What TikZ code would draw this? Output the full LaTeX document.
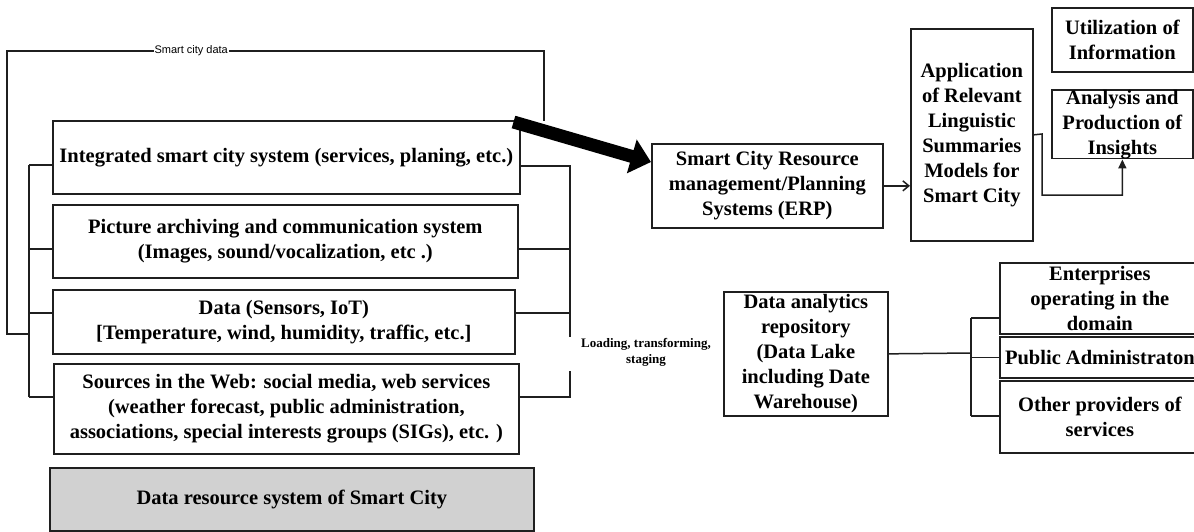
\documentclass[tikz,border=0pt]{standalone}
\usepackage{fontspec}
\setmainfont{Liberation Serif}
\newfontfamily\sansf{Liberation Sans}
\usetikzlibrary{arrows.meta}
\begin{document}
\begin{tikzpicture}[x=1pt,y=-1pt,
  box/.style={draw=black!88, line width=1.7pt, inner sep=0pt, align=center,
    font=\fontsize{20.5}{25}\selectfont\bfseries, anchor=north west},
  conn/.style={line width=1.5pt, draw=black!88},
  lbl/.style={font=\sansf\fontsize{11}{13}\selectfont, fill=white, inner sep=1pt},
]
\useasboundingbox (0,0) rectangle (1194,532);

% left column
\node[box, minimum width=467, minimum height=73] (int) at (52,120)
  {Integrated smart city system (services, planing, etc.)};
\node[box, minimum width=465, minimum height=73] (pic) at (52,204)
  {Picture archiving and communication system\\(Images, sound/vocalization, etc .)};
\node[box, minimum width=462, minimum height=64] (dat) at (52,289)
  {Data (Sensors, IoT)\\{[}Temperature, wind, humidity, traffic, etc.{]}};
\node[box, minimum width=465, minimum height=90] (web) at (53,363)
  {Sources in the Web: social media, web services\\(weather forecast, public administration,\\associations, special interests groups (SIGs), etc. )};
\node[box, fill=black!18, minimum width=484, minimum height=63] (drs) at (49,467)
  {Data resource system of Smart City};

% right part
\node[box, minimum width=231, minimum height=84] (erp) at (651,143)
  {Smart City Resource\\management/Planning\\Systems (ERP)};
\node[box, minimum width=122, minimum height=212] (app) at (910,28)
  {Application\\of Relevant\\Linguistic\\Summaries\\Models for\\Smart City};
\node[box, minimum width=141, minimum height=64] (util) at (1051,7)
  {Utilization of\\Information};
\node[box, minimum width=141, minimum height=68] (ana) at (1051,89)
  {Analysis and\\Production of\\Insights};
\node[box, minimum width=164, minimum height=124] (dar) at (723,291)
  {Data analytics\\repository\\(Data Lake\\including Date\\Warehouse)};
\node[box, minimum width=200, minimum height=71] (ent) at (999,262)
  {Enterprises\\operating in the\\domain};
\node[box, minimum width=200, minimum height=41] (pub) at (999,336)
  {Public Administraton};
\node[box, minimum width=200, minimum height=72] (oth) at (999,380)
  {Other providers of\\services};

\node[font=\bfseries\fontsize{13}{16}\selectfont, align=center, inner sep=0pt] (ltr) at (646,352)
  {Loading, transforming,\\staging};

% smart city data loop
\coordinate (sdS) at (544,121);
\coordinate (sdR) at (544,51);
\coordinate (sdL) at (7,51);
\coordinate (sdB) at (7,334);
\coordinate (ilJ) at (29,334);
\draw[conn] (sdS) -- (sdR) -- node[lbl, pos=0.657] (sdlab) {Smart city data} (sdL) -- (sdB) -- (ilJ);

% inner left bracket
\coordinate (ilT) at (29,165);
\coordinate (ilB) at (29,397);
\coordinate (yI) at (0,165);
\coordinate (yP) at (0,249);
\coordinate (yD) at (0,313);
\coordinate (yW) at (0,397);
\draw[conn] (ilT) -- (ilB);
\draw[conn] (ilT) -- (int.west |- yI);
\draw[conn] (ilT |- yP) -- (pic.west |- yP);
\draw[conn] (ilT |- yD) -- (dat.west |- yD);
\draw[conn] (ilB) -- (web.west |- yW);

% right bracket
\coordinate (rbT) at (570,166);
\coordinate (rbG1) at (570,337);
\coordinate (rbG2) at (570,371);
\coordinate (rbB) at (570,397);
\draw[conn] (int.east |- rbT) -- (rbT) -- (rbG1);
\draw[conn] (rbG2) -- (rbB) -- (web.east |- rbB);
\draw[conn] (pic.east |- yP) -- (rbT |- yP);
\draw[conn] (dat.east |- yD) -- (rbT |- yD);

% thick arrow
\coordinate (thkS) at (513.5,122);
\coordinate (thkE) at (0,162);
\draw[line width=13pt, draw=black, -{Triangle[length=20pt,width=34pt]}] (thkS) -- (erp.west |- thkE);

% ERP -> application
\draw[conn, -{Straight Barb[length=6pt,width=10pt]}] (erp.east) -- (app.west |- erp.east);

% application -> analysis
\coordinate (aT) at (1042,134);
\coordinate (aB) at (1042,195);
\draw[conn, -{Triangle[length=9pt,width=8pt]}] (app.east) -- (aT) -- (aB) -| (ana.south);

% data analytics -> bracket
\coordinate (dbM) at (971,353);
\coordinate (dbT) at (971,318);
\coordinate (dbB) at (971,416);
\draw[conn] (dar.east) -- (dbM);
\draw[conn] (dbT) -- (dbB);
\draw[conn] (dbT) -- (ent.west |- dbT);
\draw[conn] (dbT |- pub.west) -- (pub.west);
\draw[conn] (dbB) -- (oth.west |- dbB);
\end{tikzpicture}
\end{document}
